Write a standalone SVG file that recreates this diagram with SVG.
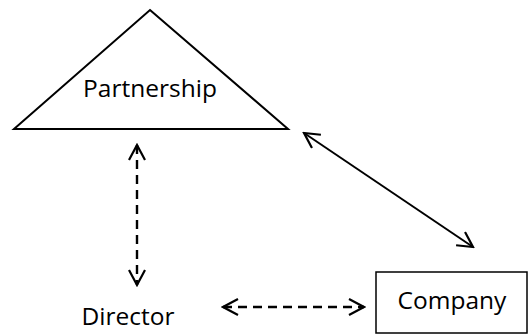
<svg xmlns="http://www.w3.org/2000/svg" width="528" height="334" viewBox="0 0 528 334">
<style>
.shape{fill:#fff;stroke:#000;stroke-width:2}
.box{stroke-width:1.5}
.lbl{font-family:"Open Sans","Liberation Sans",sans-serif;font-size:24.5px;fill:#000}
.conn{fill:none;stroke:#000;stroke-width:2}
.dash{stroke-width:2.4;stroke-dasharray:9,6}
</style>
<defs>
<marker id="arr" viewBox="0 0 18 18" refX="16" refY="9" markerWidth="18" markerHeight="18" markerUnits="userSpaceOnUse" orient="auto-start-reverse">
<path d="M1,1 L16,9 L1,17" fill="none" stroke="#000" stroke-width="2.2"/>
</marker>
</defs>
<rect width="528" height="334" fill="#fff"/>
<g id="partnership">
<polygon class="shape" points="150,10 288,129 14,129"/>
<text class="lbl" x="150" y="97" text-anchor="middle">Partnership</text>
</g>
<g id="director">
<text class="lbl" x="128" y="325" text-anchor="middle">Director</text>
</g>
<g id="company">
<rect class="shape box" x="376" y="272" width="151" height="61"/>
<text class="lbl" x="452" y="309" text-anchor="middle">Company</text>
</g>
<g id="connectors">
<line class="conn dash" x1="137" y1="145" x2="137" y2="285" marker-start="url(#arr)" marker-end="url(#arr)"/>
<line class="conn" x1="304" y1="133" x2="473" y2="247" marker-start="url(#arr)" marker-end="url(#arr)"/>
<line class="conn dash" x1="223" y1="307" x2="364" y2="307" marker-start="url(#arr)" marker-end="url(#arr)"/>
</g>
</svg>
